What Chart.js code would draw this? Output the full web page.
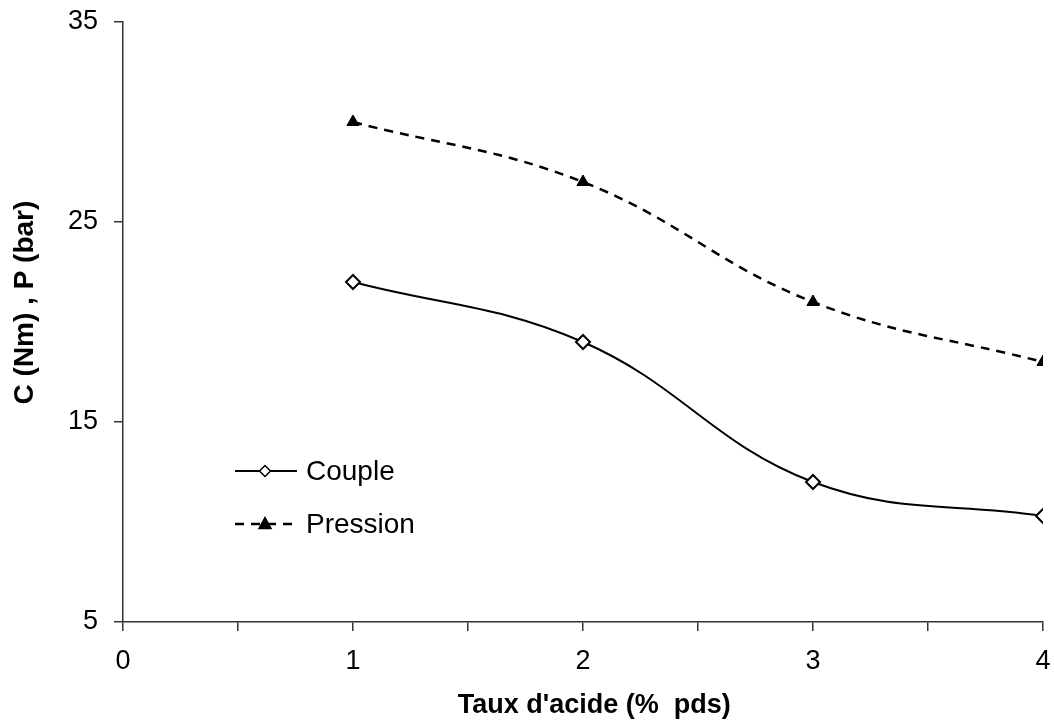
<!DOCTYPE html>
<html>
<head>
<meta charset="utf-8">
<script src="https://cdn.jsdelivr.net/npm/chart.js@4"></script>
<style>
  html, body { margin: 0; padding: 0; background: #fff; }
</style>
</head>
<body>
<canvas id="c" width="1054" height="722"></canvas>
<script>
// taux d'acide (% pds)
const taux = [1, 2, 3, 4];
const couple = [22, 19, 12, 10.3];
const pression = [30, 27, 21, 18];

const FONT = "'Liberation Sans', Arial, sans-serif";

function pts(xs, ys){
	return xs.map((x, i) => ({x: x, y: ys[i]}));
}

// legend drawn inside the plot, like the original
const innerLegend = {
	id: 'innerLegend',
	afterDraw(chart){
		const ctx = chart.ctx;
		const rows = [
			{ds: chart.data.datasets[0], y: 471},
			{ds: chart.data.datasets[1], y: 524}
		];
		ctx.save();
		for (const r of rows){
			const ds = r.ds;
			ctx.strokeStyle = ds.borderColor;
			ctx.lineWidth = ds.borderWidth;
			ctx.setLineDash(ds.borderDash || []);
			ctx.beginPath();
			ctx.moveTo(235, r.y);
			ctx.lineTo(297, r.y);
			ctx.stroke();
			ctx.setLineDash([]);
			// marker
			ctx.fillStyle = ds.pointBackgroundColor;
			ctx.strokeStyle = ds.pointBorderColor;
			ctx.lineWidth = 1.5;
			ctx.beginPath();
			if (ds.pointStyle === 'rectRot'){
				ctx.moveTo(265, r.y - 5.5);
				ctx.lineTo(270.5, r.y);
				ctx.lineTo(265, r.y + 5.5);
				ctx.lineTo(259.5, r.y);
			} else {
				ctx.moveTo(265, r.y - 6.5);
				ctx.lineTo(271, r.y + 4.5);
				ctx.lineTo(259, r.y + 4.5);
			}
			ctx.closePath();
			ctx.fill();
			ctx.stroke();
			ctx.fillStyle = '#000';
			ctx.font = '28px ' + FONT;
			ctx.textBaseline = 'middle';
			ctx.fillText(ds.label, 306, r.y + 1);
		}
		ctx.restore();
	}
};

new Chart(document.getElementById('c'), {
	type: 'line',
	data: {
		datasets: [{
			label: 'Couple',
			data: pts(taux, couple),
			borderColor: '#000',
			borderWidth: 2,
			tension: 0.4,
			fill: false,
			pointStyle: 'rectRot',
			pointRadius: 7,
			pointBorderWidth: 2,
			pointBackgroundColor: '#fff',
			pointBorderColor: '#000'
		}, {
			label: 'Pression',
			data: pts(taux, pression),
			borderColor: '#000',
			borderWidth: 2.5,
			borderDash: [9, 7],
			tension: 0.4,
			fill: false,
			pointStyle: 'triangle',
			pointRadius: 7,
			pointBorderWidth: 1,
			pointBackgroundColor: '#000',
			pointBorderColor: '#000'
		}]
	},
	options: {
		responsive: false,
		animation: false,
		devicePixelRatio: 1,
		layout: {padding: {top: 22, right: 11, left: 0, bottom: 0}},
		plugins: {
			legend: {display: false},
			tooltip: {enabled: false}
		},
		scales: {
			x: {
				type: 'linear',
				min: 0, max: 4,
				afterFit: (s) => { s.height = 100; s.paddingLeft = 0; s.paddingRight = 0; },
				border: {display: true, color: '#333', width: 1.5},
				grid: {drawOnChartArea: false, drawTicks: true, tickLength: 9, color: '#333', lineWidth: 1.5},
				ticks: {
					stepSize: 0.5,
					autoSkip: false,
					maxRotation: 0,
					padding: 14,
					color: '#000',
					font: {family: FONT, size: 27},
					callback: (v) => Number.isInteger(v) ? String(v) : ''
				},
				title: {
					display: true,
					text: "   Taux d'acide (%  pds)",
					color: '#000',
					font: {family: FONT, size: 27, weight: 'bold'},
					padding: {top: 0, bottom: 0}
				}
			},
			y: {
				min: 5, max: 35,
				afterFit: (s) => { s.width = 123; s.paddingTop = 0; s.paddingBottom = 0; },
				border: {display: true, color: '#333', width: 1.5},
				grid: {drawOnChartArea: false, drawTicks: true, tickLength: 9, color: '#333', lineWidth: 1.5},
				ticks: {
					stepSize: 10,
					padding: 16,
					color: '#000',
					font: {family: FONT, size: 27}
				},
				title: {
					display: true,
					text: '     C (Nm) , P (bar)',
					color: '#000',
					font: {family: FONT, size: 28, weight: 'bold'},
					padding: {top: 8, bottom: 0}
				}
			}
		}
	},
	plugins: [innerLegend]
});
</script>
</body>
</html>
